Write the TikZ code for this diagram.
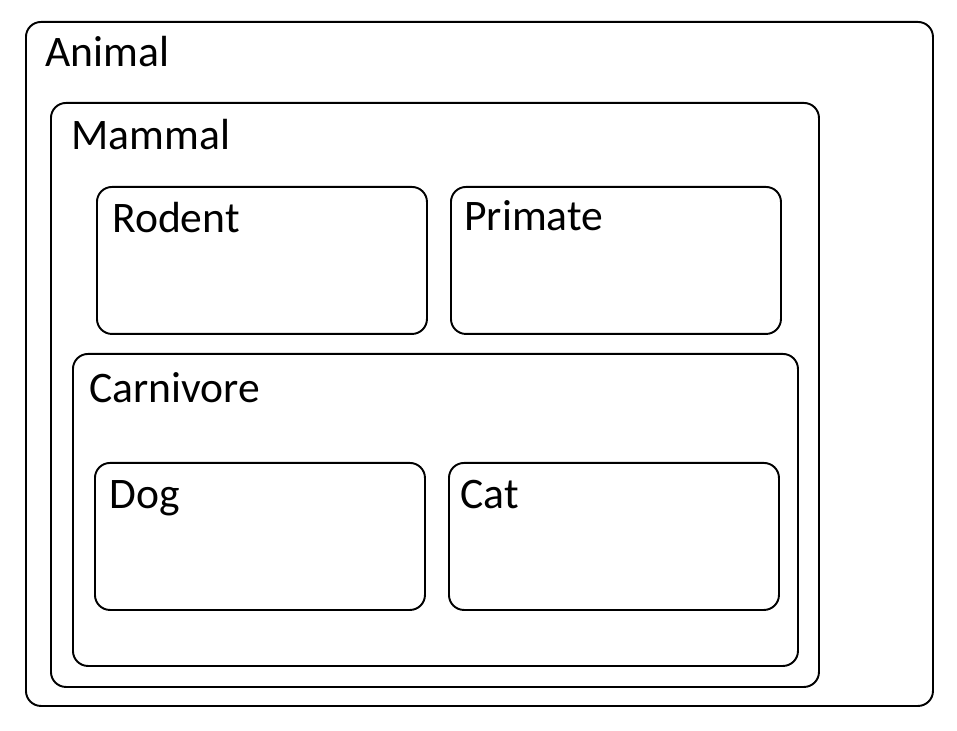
\documentclass[tikz,border=0pt]{standalone}
\usepackage{fontspec}
\setmainfont{Carlito}
\usetikzlibrary{positioning}

\tikzset{
	box/.style={draw, line width=1.1pt, rounded corners=0.3cm, anchor=north west, inner sep=0pt},
	lbl/.style={anchor=base west, inner sep=0pt, font=\fontsize{24.8}{28}\selectfont}
}

\begin{document}
\begin{tikzpicture}
		\useasboundingbox (0,0) rectangle (19.14,-14.62);

		\node[box, minimum width=18.14cm, minimum height=13.68cm] (animal) at (0.5,-0.42) {};
		\node[box, minimum width=15.36cm, minimum height=11.68cm] (mammal) at (1.0,-2.04) {};
		\node[box, minimum width=6.6cm, minimum height=2.94cm] (rodent) at (1.92,-3.72) {};
		\node[box, minimum width=6.6cm, minimum height=2.94cm] (primate) at (9.0,-3.72) {};
		\node[box, minimum width=14.5cm, minimum height=6.24cm] (carnivore) at (1.44,-7.06) {};
		\node[box, minimum width=6.6cm, minimum height=2.94cm] (dog) at (1.88,-9.24) {};
		\node[box, minimum width=6.6cm, minimum height=2.94cm] (cat) at (8.96,-9.24) {};

		\node[lbl] (animallbl) at ([xshift=0.4cm, yshift=-0.92cm]animal.north west) {Animal};
		\node[lbl] (mammallbl) at ([xshift=0.42cm, yshift=-0.96cm]mammal.north west) {Mammal};
		\node[lbl] (rodentlbl) at ([xshift=0.32cm, yshift=-0.94cm]rodent.north west) {Rodent};
		\node[lbl] (primatelbl) at ([xshift=0.28cm, yshift=-0.9cm]primate.north west) {Primate};
		\node[lbl] (carnivorelbl) at ([xshift=0.34cm, yshift=-1.0cm]carnivore.north west) {Carnivore};
		\node[lbl] (doglbl) at ([xshift=0.3cm, yshift=-0.94cm]dog.north west) {Dog};
		\node[lbl] (catlbl) at ([xshift=0.24cm, yshift=-0.94cm]cat.north west) {Cat};
	\end{tikzpicture}
\end{document}
